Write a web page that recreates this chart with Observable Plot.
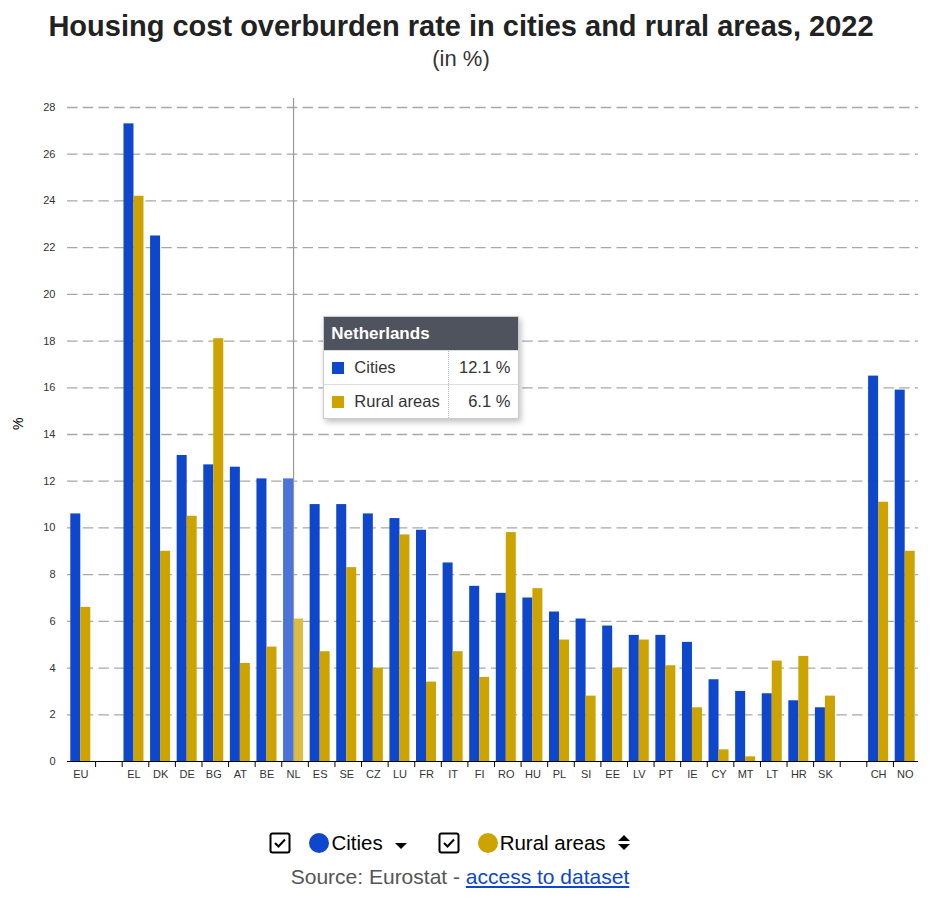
<!DOCTYPE html>
<html><head><meta charset="utf-8">
<script src="https://cdn.jsdelivr.net/npm/d3@7"></script>
<script src="https://cdn.jsdelivr.net/npm/@observablehq/plot@0.6"></script>
<style>
body{margin:0;background:#fff;font-family:"Liberation Sans",Arial,sans-serif;}
#wrap{position:relative;width:946px;height:900px;}
.title{position:absolute;left:0;width:922px;top:8px;height:36px;line-height:36px;text-align:center;font-size:29px;font-weight:bold;color:#222;}
.sub{position:absolute;left:0;width:922px;top:44px;height:30px;line-height:30px;text-align:center;font-size:22px;color:#333;}
#chart{position:absolute;left:0;top:74px;}
.legend{position:absolute;left:0;width:900px;top:828px;height:30px;display:flex;justify-content:center;align-items:center;font-size:20.5px;color:#000;}
.legend .item{display:flex;align-items:center;margin:0 15px;}
.legend .dot{width:20px;height:20px;border-radius:50%;display:inline-block;margin:0 2px 0 18px;}
.source{position:absolute;left:0;width:920px;top:865px;height:24px;line-height:24px;text-align:center;font-size:21px;color:#555;}
.source a{color:#0e47cb;text-decoration:underline;}
.tip{position:absolute;background:#fff;border:1px solid #ccc;box-shadow:2px 3px 6px rgba(0,0,0,0.25);font-size:16.5px;color:#333;width:194px;}
.tip .hd{background:#4f535e;color:#fff;font-weight:bold;font-size:17px;height:33px;line-height:33px;padding-left:7px;}
.tip .row{display:flex;height:33px;line-height:33px;border-top:1px solid #ddd;}
.tip .row .l{width:116px;padding-left:8px;border-right:1px dotted #bbb;display:flex;align-items:center;}
.tip .row .r{flex:1;text-align:right;padding-right:8px;}
.tip .sq{width:12px;height:12px;display:inline-block;margin-right:10px;}
</style>
</head><body>
<div id="wrap">
  <div class="title">Housing cost overburden rate in cities and rural areas, 2022</div>
  <div class="sub">(in %)</div>
  <div id="chart"></div>
  <div class="legend">
    <div class="item">
      <svg width="22" height="22" viewBox="0 0 22 22"><rect x="1.5" y="1.5" width="19" height="19" rx="2" fill="none" stroke="#000" stroke-width="2"/><path d="M6 11 L9.5 14.5 L16 7.5" fill="none" stroke="#000" stroke-width="2"/></svg>
      <span class="dot" style="background:#0e47cb"></span><span>Cities</span>
      <svg width="14" height="10" viewBox="0 0 14 10" style="margin-left:11px;margin-top:6px"><path d="M1 2 L13 2 L7 8 Z" fill="#000"/></svg>
    </div>
    <div class="item">
      <svg width="22" height="22" viewBox="0 0 22 22"><rect x="1.5" y="1.5" width="19" height="19" rx="2" fill="none" stroke="#000" stroke-width="2"/><path d="M6 11 L9.5 14.5 L16 7.5" fill="none" stroke="#000" stroke-width="2"/></svg>
      <span class="dot" style="background:#cca300"></span><span>Rural areas</span>
      <svg width="14" height="20" viewBox="0 0 14 20" style="margin-left:11px"><path d="M1 8 L13 8 L7 2 Z M1 11 L13 11 L7 17 Z" fill="#000"/></svg>
    </div>
  </div>
  <div class="source">Source: Eurostat - <a href="#">access to dataset</a></div>
</div>
<script>
// Slots on the x axis (blank entries are the gaps)
const slots = ["EU"," ","EL","DK","DE","BG","AT","BE","NL","ES","SE","CZ","LU","FR","IT","FI","RO","HU","PL","SI","EE","LV","PT","IE","CY","MT","LT","HR","SK","  ","CH","NO"];
const countries = ["EU","EL","DK","DE","BG","AT","BE","NL","ES","SE","CZ","LU","FR","IT","FI","RO","HU","PL","SI","EE","LV","PT","IE","CY","MT","LT","HR","SK","CH","NO"];
const cities = [10.6,27.3,22.5,13.1,12.7,12.6,12.1,12.1,11.0,11.0,10.6,10.4,9.9,8.5,7.5,7.2,7.0,6.4,6.1,5.8,5.4,5.4,5.1,3.5,3.0,2.9,2.6,2.3,16.5,15.9];
const rural  = [6.6,24.2,9.0,10.5,18.1,4.2,4.9,6.1,4.7,8.3,4.0,9.7,3.4,4.7,3.6,9.8,7.4,5.2,2.8,4.0,5.2,4.1,2.3,0.5,0.2,4.3,4.5,2.8,11.1,9.0];
const yTicks = [0,2,4,6,8,10,12,14,16,18,20,22,24,26,28];
const highlighted = "NL";
const highlightedName = "Netherlands";

const data = countries.map((c, i) => ({country: c, cities: cities[i], rural: rural[i]}));
const step = (946 - 67 - 28) / slots.length;
const barW = 10;
const gapIn = (step - 2 * barW) / 2;

const chart = Plot.plot({
  width: 946, height: 717,
  marginLeft: 67, marginRight: 28, marginTop: 24, marginBottom: 30,
  x: {domain: slots, padding: 0, round: false, axis: null},
  y: {domain: [0, 28], insetTop: 9, axis: null},
  style: {fontFamily: "'Liberation Sans', Arial, sans-serif", fontSize: "11px", color: "#333", background: "transparent"},
  marks: [
    Plot.ruleY(yTicks.filter(t => t > 0), {stroke: "#a8a8a8", strokeWidth: 1.3, strokeDasharray: "10.5,5.2"}),
    Plot.axisY({ticks: yTicks, tickSize: 0, tickPadding: 12, label: null, fontSize: 11}),
    Plot.text(["%"], {frameAnchor: "left", dx: -49, rotate: -90, fontSize: 14, fill: "#000"}),
    Plot.barY(data, {filter: d => d.country !== highlighted, x: "country", y: "cities", fill: "#0e47cb", insetLeft: gapIn, insetRight: gapIn + barW}),
    Plot.barY(data, {filter: d => d.country !== highlighted, x: "country", y: "rural", fill: "#cca300", insetLeft: gapIn + barW, insetRight: gapIn}),
    Plot.barY(data, {filter: d => d.country === highlighted, x: "country", y: "cities", fill: "#4a74dc", insetLeft: gapIn, insetRight: gapIn + barW}),
    Plot.barY(data, {filter: d => d.country === highlighted, x: "country", y: "rural", fill: "#dcbd40", insetLeft: gapIn + barW, insetRight: gapIn}),
    Plot.ruleX([highlighted], {stroke: "#999", strokeWidth: 1.2}),
    Plot.ruleY([0], {stroke: "#000", strokeWidth: 1.2}),
    Plot.axisX({ticks: slots.slice(1), tickSize: 6, dx: -step / 2 + 1.5, tickFormat: () => "", stroke: "#000", label: null}),
    Plot.axisX({tickSize: 0, tickPadding: 9, tickFormat: d => d.trim(), label: null, fontSize: 11, fill: "#333"})
  ]
});
document.getElementById("chart").appendChild(chart);

// Tooltip for the highlighted country, placed from the scales
const xs = chart.scale("x");
const ys = chart.scale("y");
const tipLeft = xs.apply(highlighted) + xs.bandwidth + 17;
const tipTop = 74 + ys.apply(19.05);
const i = countries.indexOf(highlighted);
const tip = document.createElement("div");
tip.className = "tip";
tip.style.left = tipLeft + "px";
tip.style.top = tipTop + "px";
tip.innerHTML = `<div class="hd">${highlightedName}</div>
<div class="row"><div class="l"><span class="sq" style="background:#0e47cb"></span>Cities</div><div class="r">${cities[i].toFixed(1)} %</div></div>
<div class="row"><div class="l"><span class="sq" style="background:#cca300"></span>Rural areas</div><div class="r">${rural[i].toFixed(1)} %</div></div>`;
document.getElementById("wrap").appendChild(tip);
</script>
</body></html>
